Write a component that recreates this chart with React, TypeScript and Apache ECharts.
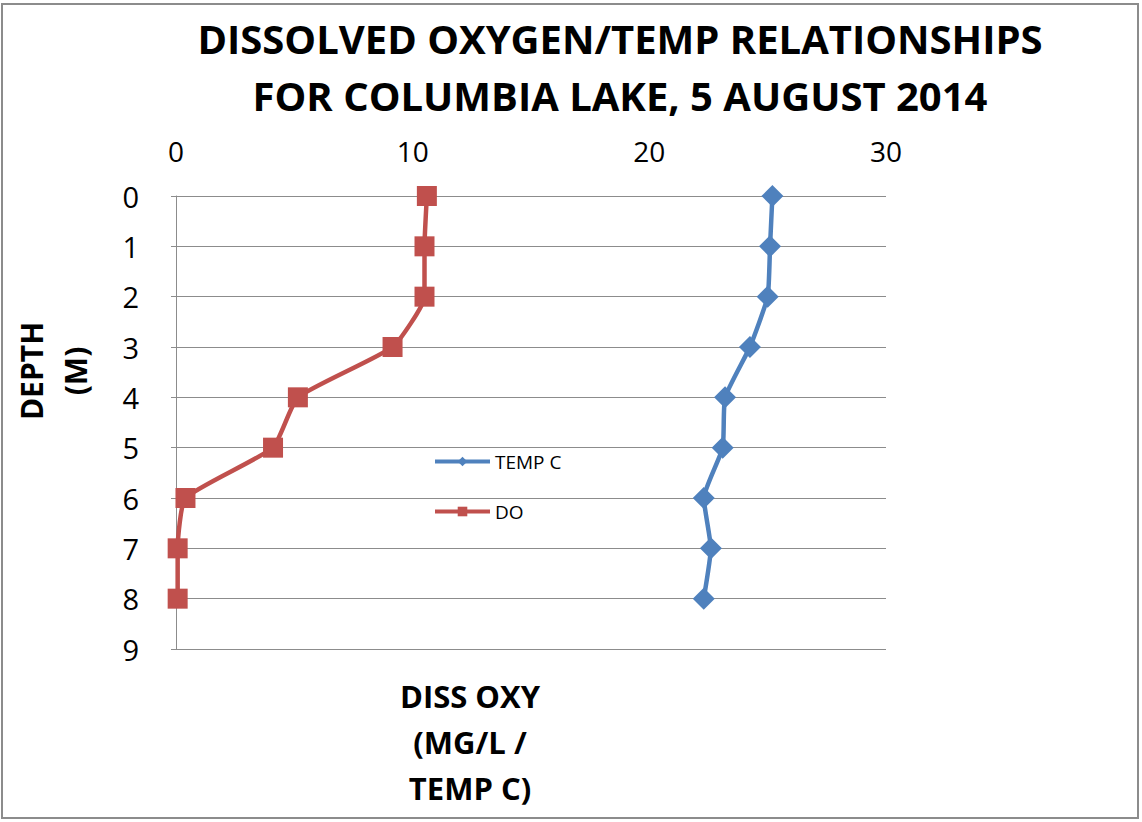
import React, { useEffect, useRef } from "react";
import * as echarts from "echarts";

const depths = [0, 1, 2, 3, 4, 5, 6, 7, 8];
const tempC = [25.2, 25.1, 25.0, 24.25, 23.2, 23.1, 22.3, 22.6, 22.3];
const dissOxy = [10.6, 10.5, 10.5, 9.15, 5.15, 4.1, 0.4, 0.07, 0.07];
const xTicks = [0, 10, 20, 30];
const yTicks = [0, 1, 2, 3, 4, 5, 6, 7, 8, 9];

const titleLines = ["DISSOLVED OXYGEN/TEMP RELATIONSHIPS", "FOR COLUMBIA LAKE, 5 AUGUST 2014"];
const yName = "DEPTH\n(M)";
const xName = "DISS OXY\n(MG/L /\nTEMP C)";

const FONT = "'Open Sans', 'Noto Sans', sans-serif";

export default function App() {
  const ref = useRef<HTMLDivElement>(null);
  useEffect(() => {
    if (!ref.current) return;
    const chart = echarts.init(ref.current, null, { renderer: "svg" });
    chart.setOption({
      animation: false,
      backgroundColor: "#ffffff",
      grid: { left: 176, top: 196, width: 710, height: 453, containLabel: false },
      xAxis: {
        type: "value",
        position: "top",
        min: xTicks[0],
        max: xTicks[xTicks.length - 1],
        interval: 10,
        axisLine: { show: false },
        axisTick: { show: false },
        splitLine: { show: false },
        axisLabel: { fontSize: 28, color: "#000", margin: 31, fontFamily: FONT },
      },
      yAxis: {
        type: "value",
        inverse: true,
        min: yTicks[0],
        max: yTicks[yTicks.length - 1],
        interval: 1,
        axisLine: { show: true, lineStyle: { color: "#8c8c8c", width: 1 } },
        axisTick: { show: true, length: 5, lineStyle: { color: "#8c8c8c" } },
        splitLine: { show: true, lineStyle: { color: "#8c8c8c", width: 1 } },
        axisLabel: { fontSize: 29, color: "#000", margin: 37, fontFamily: FONT },
      },
      legend: {
        orient: "vertical",
        left: 433,
        top: 452,
        padding: 0,
        itemGap: 31,
        itemWidth: 55,
        itemHeight: 12,
        lineStyle: { width: 4 },
        textStyle: { fontSize: 19, color: "#000", fontFamily: FONT },
        data: ["TEMP C", "DO"],
      },
      series: [
        {
          name: "TEMP C",
          type: "line",
          smooth: 0.15,
          symbol: "diamond",
          symbolSize: 22,
          color: "#4F81BD",
          lineStyle: { width: 4.5, color: "#4F81BD" },
          itemStyle: { color: "#4F81BD" },
          data: depths.map((d, i) => [tempC[i], d]),
        },
        {
          name: "DO",
          type: "line",
          smooth: 0.15,
          symbol: "rect",
          symbolSize: 20,
          color: "#C0504D",
          lineStyle: { width: 4.5, color: "#C0504D" },
          itemStyle: { color: "#C0504D" },
          data: depths.map((d, i) => [dissOxy[i], d]),
        },
      ],
      graphic: [
        {
          type: "rect",
          shape: { x: 2, y: 4, width: 1136, height: 814 },
          style: { fill: "none", stroke: "#8c8c8c", lineWidth: 2 },
          z: -1,
        },
        {
          type: "text",
          x: 620,
          y: 38,
          style: {
            text: titleLines[0],
            font: `bold 40px ${FONT}`,
            fill: "#000",
            textAlign: "center",
            textVerticalAlign: "middle",
          },
        },
        {
          type: "text",
          x: 620,
          y: 95,
          style: {
            text: titleLines[1],
            font: `bold 40px ${FONT}`,
            fill: "#000",
            textAlign: "center",
            textVerticalAlign: "middle",
          },
        },
        {
          type: "text",
          x: 53,
          y: 371,
          rotation: Math.PI / 2,
          style: {
            text: yName,
            font: `bold 30px ${FONT}`,
            fill: "#000",
            textAlign: "center",
            textVerticalAlign: "middle",
            lineHeight: 44,
          },
        },
        {
          type: "text",
          x: 470,
          y: 742,
          style: {
            text: xName,
            font: `bold 31px ${FONT}`,
            fill: "#000",
            textAlign: "center",
            textVerticalAlign: "middle",
            lineHeight: 46,
          },
        },
      ],
    });
    return () => chart.dispose();
  }, []);
  return <div ref={ref} style={{ width: 1142, height: 822, position: "absolute", left: 0, top: 0 }} />;
}
